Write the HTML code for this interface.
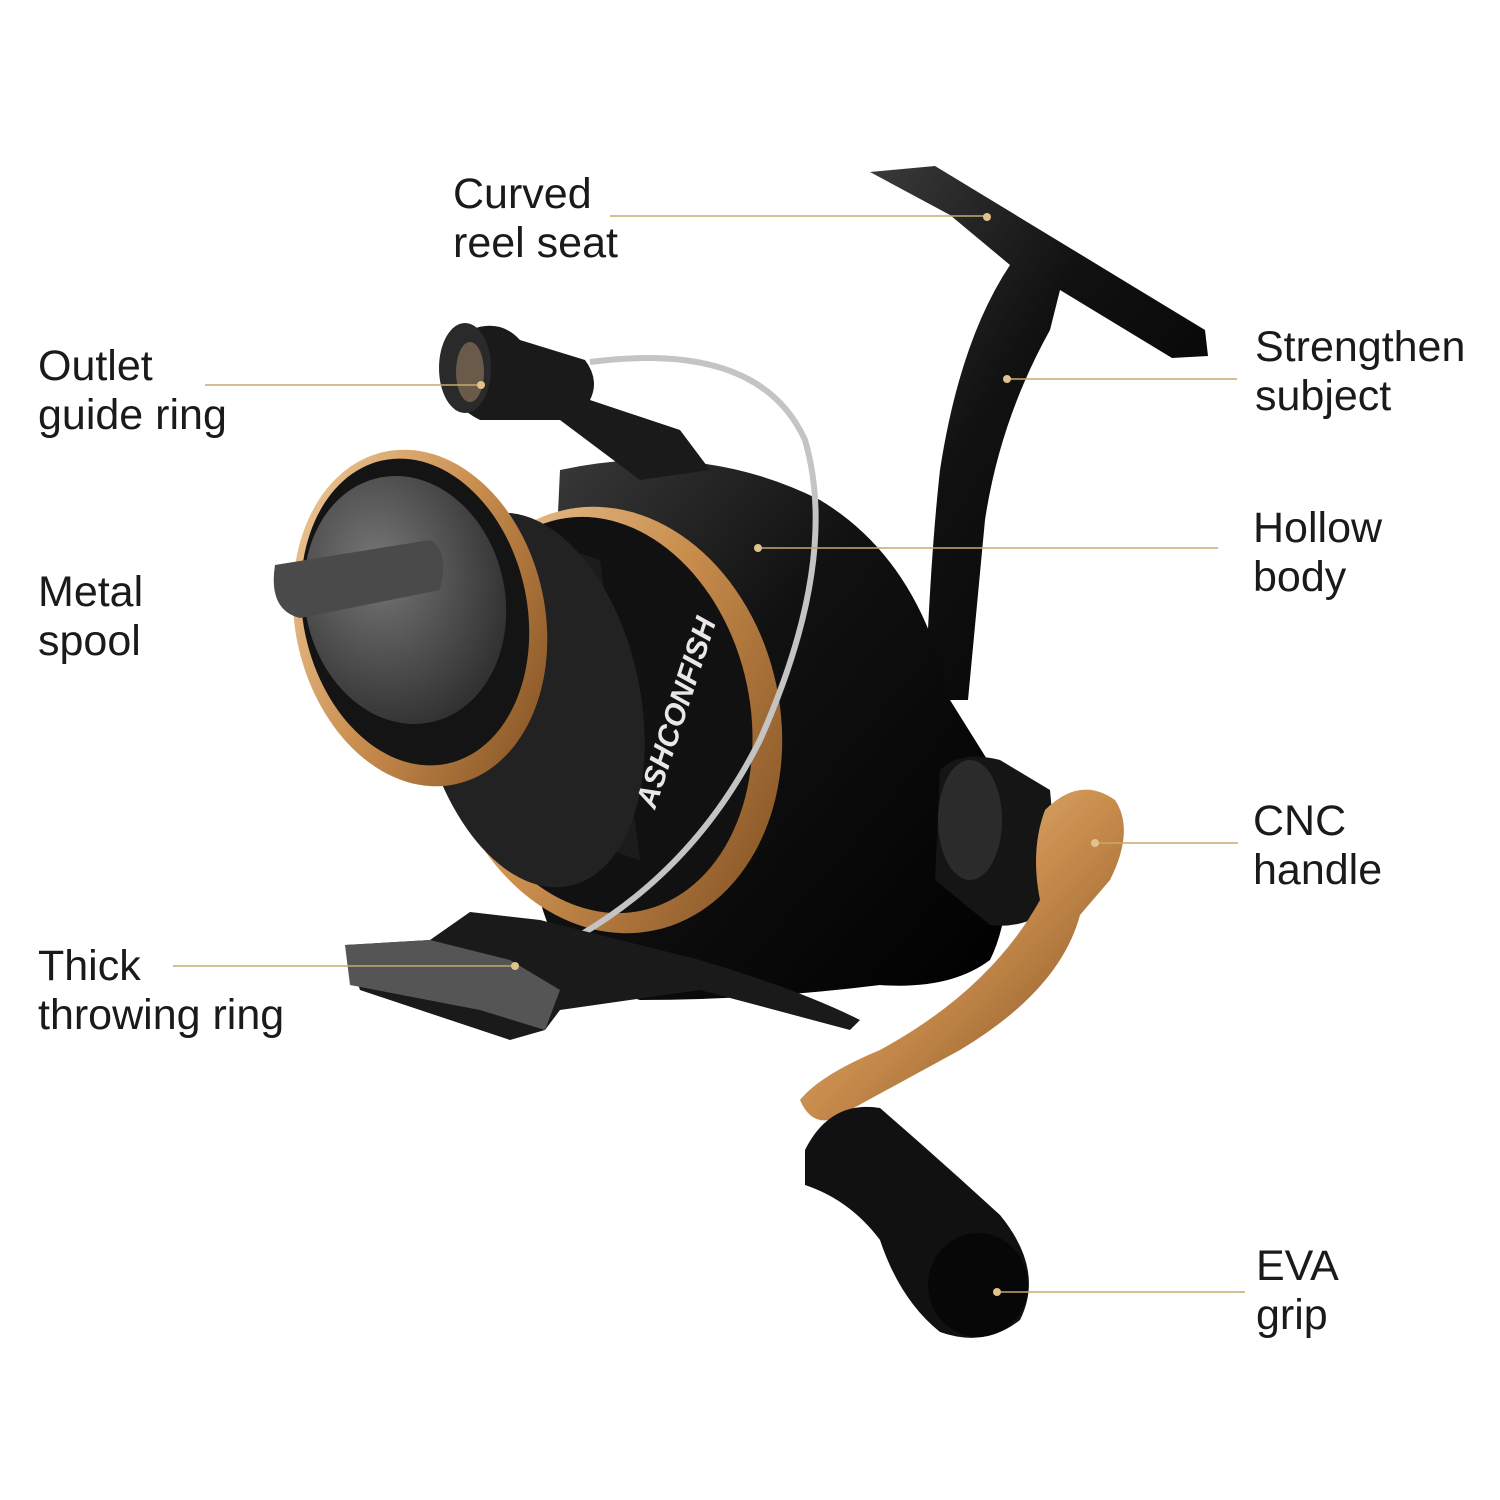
<!DOCTYPE html>
<html><head><meta charset="utf-8"><style>
html,body{margin:0;padding:0;background:#fff}
svg{display:block}
text{font-family:"Liberation Sans",sans-serif;font-size:43px;fill:#1a1a1a}
</style></head><body>
<svg width="1500" height="1500" viewBox="0 0 1500 1500" xmlns="http://www.w3.org/2000/svg">
<defs>
<linearGradient id="gold" x1="0" y1="0" x2="1" y2="1">
<stop offset="0" stop-color="#f3d3a4"/><stop offset="0.5" stop-color="#c88c4c"/><stop offset="1" stop-color="#7a4a1e"/></linearGradient>
<linearGradient id="blk" x1="0" y1="0" x2="1" y2="1">
<stop offset="0" stop-color="#3a3a3a"/><stop offset="0.4" stop-color="#111"/><stop offset="1" stop-color="#000"/></linearGradient>
<radialGradient id="cap" cx="0.4" cy="0.35" r="0.7">
<stop offset="0" stop-color="#777"/><stop offset="1" stop-color="#2e2e2e"/></radialGradient>
</defs>
<path d="M870,172 L935,166 L1205,330 L1208,356 L1172,358 L1060,290 L1050,330 Q1000,420 985,520 L968,700 L925,700 Q930,560 940,470 Q960,340 1010,265 L950,215 Z" fill="url(#blk)"/>
<path d="M560,470 Q700,440 820,500 Q920,560 950,700 L1000,780 Q1020,900 990,960 Q950,990 880,985 Q760,1000 640,1000 Q560,980 540,900 Z" fill="url(#blk)"/>
<path d="M940,770 Q960,750 1000,760 L1050,790 L1060,900 Q1030,930 990,925 L935,880 Z" fill="#151515"/>
<ellipse cx="970" cy="820" rx="32" ry="60" fill="#2b2b2b"/>
<ellipse cx="610" cy="720" rx="170" ry="215" transform="rotate(-12 610 720)" fill="url(#gold)"/>
<ellipse cx="600" cy="715" rx="150" ry="200" transform="rotate(-12 600 715)" fill="#111"/>
<path d="M420,500 L600,560 L640,860 L450,800 Z" fill="#1c1c1c"/>
<ellipse cx="530" cy="700" rx="110" ry="190" transform="rotate(-12 530 700)" fill="#222"/>
<text x="0" y="0" transform="translate(655,810) rotate(-72)" style="font-size:30px;font-weight:bold;fill:#e8e8e8;font-style:italic">ASHCONFISH</text>
<ellipse cx="420" cy="618" rx="125" ry="170" transform="rotate(-12 420 618)" fill="url(#gold)"/>
<ellipse cx="415" cy="612" rx="112" ry="155" transform="rotate(-12 415 612)" fill="#141414"/>
<ellipse cx="405" cy="600" rx="100" ry="125" transform="rotate(-12 405 600)" fill="url(#cap)"/>
<path d="M275,565 L430,540 Q450,550 440,590 L300,618 Q268,610 275,565 Z" fill="#4a4a4a"/>
<path d="M470,330 Q500,318 520,340 L585,360 Q600,380 590,400 L680,430 L710,470 L640,480 L560,420 L480,420 Q440,400 445,360 Z" fill="#1a1a1a"/>
<ellipse cx="465" cy="368" rx="26" ry="45" fill="#2a2a2a"/>
<ellipse cx="470" cy="372" rx="14" ry="30" fill="#6a5a4a"/>
<path d="M590,362 Q760,340 805,440 Q840,560 760,740 Q680,900 515,967" fill="none" stroke="#c4c4c4" stroke-width="6"/>
<path d="M345,945 L430,940 L470,912 L540,920 L700,960 Q800,990 860,1020 L850,1030 L700,990 L560,1010 L545,1030 L510,1040 L360,990 Z" fill="#1a1a1a"/>
<path d="M345,945 L430,940 L510,960 L560,990 L545,1030 L480,1010 L350,985 Z" fill="#555"/>
<path d="M1045,810 Q1080,775 1115,800 Q1135,830 1110,880 L1080,915 Q1060,990 960,1050 L850,1110 Q815,1135 800,1100 Q820,1075 880,1050 Q990,990 1040,900 Q1030,850 1045,810 Z" fill="url(#gold)"/>
<path d="M805,1150 Q830,1100 880,1108 Q940,1160 1000,1215 Q1045,1270 1020,1320 Q985,1348 940,1332 Q900,1300 880,1240 Q850,1200 805,1185 Z" fill="#111"/>
<ellipse cx="978" cy="1285" rx="50" ry="52" fill="#070707"/>
<g stroke="#c8a96a" stroke-width="1.6" fill="none">
<line x1="610" y1="216" x2="987" y2="216"/>
<line x1="205" y1="385" x2="481" y2="385"/>
<line x1="1007" y1="379" x2="1237" y2="379"/>
<line x1="758" y1="548" x2="1218" y2="548"/>
<line x1="1095" y1="843" x2="1238" y2="843"/>
<line x1="173" y1="966" x2="515" y2="966"/>
<line x1="997" y1="1292" x2="1245" y2="1292"/>
</g>
<g fill="#e0c38a">
<circle cx="987" cy="217" r="4"/><circle cx="481" cy="385" r="4"/><circle cx="1007" cy="379" r="4"/>
<circle cx="758" cy="548" r="4"/><circle cx="1095" cy="843" r="4"/><circle cx="515" cy="966" r="4"/><circle cx="997" cy="1292" r="4"/>
</g>
<text x="453" y="208">Curved</text><text x="453" y="257">reel seat</text>
<text x="38" y="380">Outlet</text><text x="38" y="429">guide ring</text>
<text x="1255" y="361">Strengthen</text><text x="1255" y="410">subject</text>
<text x="1253" y="542">Hollow</text><text x="1253" y="591">body</text>
<text x="38" y="606">Metal</text><text x="38" y="655">spool</text>
<text x="1253" y="835">CNC</text><text x="1253" y="884">handle</text>
<text x="38" y="980">Thick</text><text x="38" y="1029">throwing ring</text>
<text x="1256" y="1280">EVA</text><text x="1256" y="1329">grip</text>
</svg>
</body></html>
